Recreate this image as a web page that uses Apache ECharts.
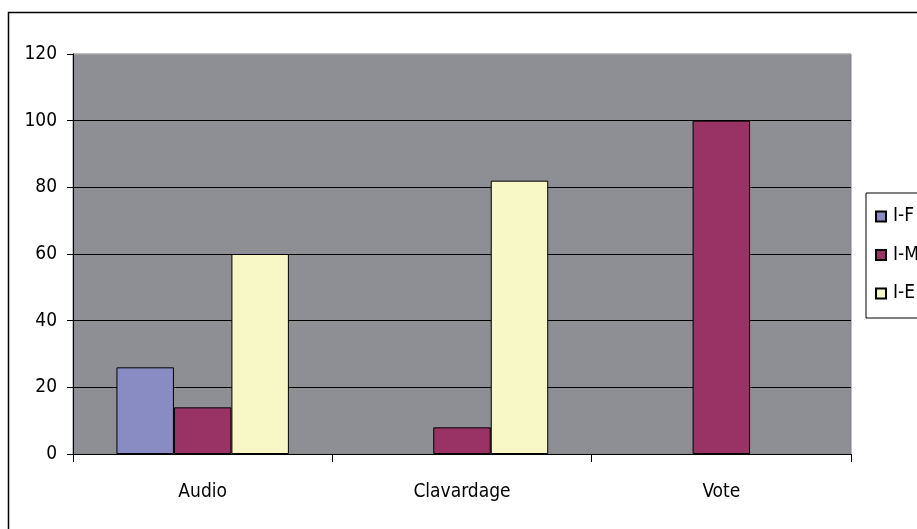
<!DOCTYPE html>
<html>
<head>
<meta charset="utf-8">
<script src="https://cdn.jsdelivr.net/npm/echarts@6/dist/echarts.min.js"></script>
<style>
html,body{margin:0;padding:0;background:#fff;}
#c{width:917px;height:529px;}
</style>
</head>
<body>
<div id="c"></div>
<script>
var categories = ['Audio', 'Clavardage', 'Vote'];
var seriesNames = ['I-F', 'I-M', 'I-E'];
var valuesIF = [26, null, null];
var valuesIM = [14, 8, 100];
var valuesIE = [60, 82, null];
var yTicks = [0, 20, 40, 60, 80, 100, 120];

var colors = ['#898bc3', '#993366', '#f8f7c6'];

// detect a narrow sans font (the reference text is tall and narrow)
function hasFont(name) {
  var ctx = document.createElement('canvas').getContext('2d');
  ctx.font = '40px monospace';
  var a = ctx.measureText('Clavardage 0123456789').width;
  ctx.font = '40px "' + name + '", monospace';
  var b = ctx.measureText('Clavardage 0123456789').width;
  return Math.abs(a - b) > 0.5;
}
var FONT, FS;
if (hasFont('Liberation Sans Narrow')) {
  FONT = "'Liberation Sans Narrow', sans-serif"; FS = 22;
} else if (hasFont('DejaVu Sans Condensed')) {
  FONT = "'DejaVu Sans Condensed', sans-serif"; FS = 19;
} else {
  FONT = "'Liberation Sans', Arial, sans-serif"; FS = 18;
}

var chart = echarts.init(document.getElementById('c'), null, {renderer: 'canvas'});
var dataSets = [valuesIF, valuesIM, valuesIE];

chart.setOption({
  animation: false,
  backgroundColor: '#ffffff',
  textStyle: {fontFamily: FONT},
  graphic: [{
    type: 'rect',
    shape: {x: 8.5, y: 12.5, width: 1000, height: 1000},
    style: {fill: 'none', stroke: '#000', lineWidth: 1.5},
    silent: true, z: 100
  }],
  grid: {
    left: 73, top: 54, width: 778, height: 400,
    show: true, backgroundColor: '#8e8f94',
    borderColor: '#808080', borderWidth: 1
  },
  legend: {
    orient: 'vertical',
    left: 866, top: 193,
    padding: [14, 20, 15, 9],
    itemWidth: 10, itemHeight: 10,
    itemGap: 19.5,
    icon: 'rect',
    borderColor: '#000', borderWidth: 1,
    textStyle: {fontFamily: FONT, fontSize: FS, color: '#000', padding: [0, 0, 0, 2]},
    data: seriesNames
  },
  xAxis: {
    type: 'category',
    data: categories,
    axisLine: {show: true, lineStyle: {color: '#000', width: 1}},
    axisTick: {show: true, inside: false, length: 8, alignWithLabel: false, lineStyle: {color: '#000'}},
    axisLabel: {color: '#000', fontSize: FS, fontFamily: FONT, margin: 29},
    splitLine: {show: false}
  },
  yAxis: {
    type: 'value',
    min: yTicks[0], max: yTicks[yTicks.length - 1], interval: 20,
    axisLine: {show: true, lineStyle: {color: '#000', width: 1}},
    axisTick: {show: true, inside: false, length: 6, lineStyle: {color: '#000'}},
    axisLabel: {color: '#000', fontSize: FS, fontFamily: FONT, margin: 16},
    splitLine: {show: true, lineStyle: {color: ['#000', '#000', '#000', '#000', '#000', '#000', '#a0a0a0'], width: 1}}
  },
  series: seriesNames.map(function (name, i) {
    return {
      name: name,
      type: 'bar',
      data: dataSets[i],
      barGap: '0%',
      barCategoryGap: '33.5%',
      itemStyle: {color: colors[i], borderColor: '#000', borderWidth: 1}
    };
  })
});
</script>
</body>
</html>
